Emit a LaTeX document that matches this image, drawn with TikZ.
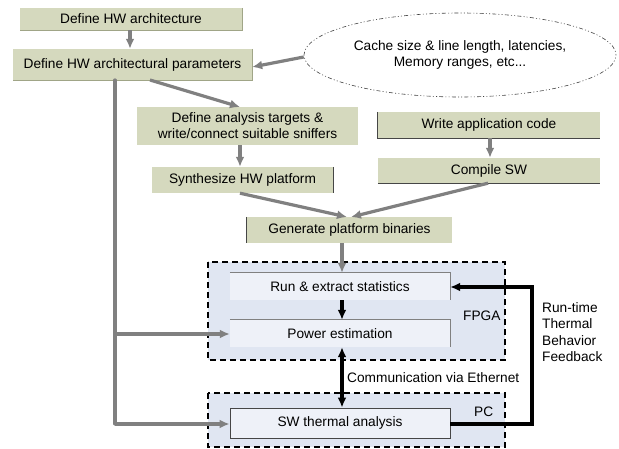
\documentclass[tikz,border=0pt]{standalone}
\usepackage{fontspec}
\setmainfont{Liberation Sans}
\usetikzlibrary{arrows.meta,shapes.geometric}
\definecolor{boxgreen}{RGB}{213,217,190}
\definecolor{edgegreen}{RGB}{160,165,135}
\definecolor{contblue}{RGB}{224,230,242}
\definecolor{innerblue}{RGB}{238,241,248}
\definecolor{arrgray}{RGB}{128,128,128}
\definecolor{edgedark}{RGB}{70,70,70}
\tikzset{
  x=1pt, y=-1pt,
  every node/.style={font=\fontsize{13.7}{16}\selectfont, inner sep=0pt},
  greenbox/.style={fill=boxgreen, align=center},
  innerbox/.style={fill=innerblue, align=center, minimum width=220pt},
  container/.style={draw=black, fill=contblue, line width=1.1pt, dash pattern=on 6pt off 4pt},
  grayarrow/.style={draw=arrgray, line width=3.2pt, -{Latex[length=10pt,width=9pt]}},
  grayline/.style={draw=arrgray, line width=3.2pt},
  blackarrow/.style={draw=black, line width=3.2pt, -{Latex[length=10pt,width=9pt]}},
  blackboth/.style={draw=black, line width=3.2pt, {Latex[length=10pt,width=9pt]}-{Latex[length=10pt,width=9pt]}},
  softedge/.style={draw=edgegreen, line width=0.8pt},
  darkedge/.style={draw=edgedark, line width=0.9pt},
  inneredge/.style={draw=gray, line width=0.9pt},
  lbl/.style={align=left, anchor=west},
}
\begin{document}
\begin{tikzpicture}
\useasboundingbox (0,0) rectangle (619,449);

% containers
\draw[container] (208,262) rectangle (505,360);
\draw[container] (208,393) rectangle (505,447);

% green boxes
\node[greenbox, minimum width=222pt, minimum height=22pt] (b1) at (131,19) {Define HW architecture};
\node[greenbox, minimum width=239pt, minimum height=31pt] (b2) at (132.5,64.5) {Define HW architectural parameters};
\node[draw=black!75, line width=0.6pt, dash pattern=on 1pt off 2.2pt on 1pt off 2.2pt on 4pt off 2.2pt, ellipse, minimum width=312pt, minimum height=84pt, align=center] (ell) at (460,55) {Cache size \& line length, latencies,\\Memory ranges, etc...};
\node[greenbox, minimum width=221pt, minimum height=38pt] (b4) at (247.5,126) {Define analysis targets \&\\write/connect suitable sniffers};
\node[greenbox, minimum width=222pt, minimum height=26pt] (b5) at (489,125) {Write application code};
\node[greenbox, minimum width=222pt, minimum height=25pt] (b6) at (489,170.5) {Compile SW};
\node[greenbox, minimum width=181pt, minimum height=26pt] (b7) at (242.5,180) {Synthesize HW platform};
\node[greenbox, minimum width=205pt, minimum height=26pt] (b8) at (349.5,230) {Generate platform binaries};

% inner boxes
\node[innerbox, minimum height=27pt] (run) at (340,286.5) {Run \& extract statistics};
\node[innerbox, minimum height=27pt] (pow) at (340,333.5) {Power estimation};
\node[innerbox, minimum height=30pt, draw=edgedark, line width=0.9pt] (sw) at (340,423) {SW thermal analysis};

% partial edges
\draw[softedge] (b1.north east) -- (b1.south east) -- (b1.south west);
\draw[softedge] (b2.north east) -- (b2.south east) -- (b2.south west);
\draw[darkedge] (b5.north west) -- (b5.south west) -- (b5.south east);
\draw[darkedge] (b6.south west) -- (b6.south east);
\draw[darkedge] (b7.north east) -- (b7.south east);
\draw[darkedge] (b8.north west) -- (b8.south west);
\draw[inneredge] (run.north west) -- (run.north east) -- (run.south east);
\draw[inneredge] (pow.north west) -- (pow.north east) -- (pow.south east);

% labels
\node[lbl] (fpga) at (463,316) {FPGA};
\node[lbl] (pc) at (474,412) {PC};
\node[lbl] (eth) at (347,378) {Communication via Ethernet};
\node[lbl, font=\fontsize{13.7}{16.5}\selectfont] (fb) at (542,332) {Run-time\\Thermal\\Behavior\\Feedback};

% coordinates
\coordinate (b2s) at (150,80);
\coordinate (trunk) at (115,80);
\coordinate (trunkmid) at (115,334);
\coordinate (trunkbot) at (115,424);
\coordinate (fbr) at (532,424);
\coordinate (fbt) at (532,287);

% gray arrows
\draw[grayarrow] (b1.south -| 130,0) -- (b2.north -| 130,0);
\draw[grayarrow] (ell.west |- 0,57) -- (b2.east |- 0,67);
\draw[grayarrow] (b2s) -- (240,107);
\draw[grayarrow] (b4.south -| 240,0) -- (b7.north -| 240,0);
\draw[grayarrow] (b5.south -| 490,0) -- (b6.north -| 490,0);
\draw[grayarrow] (b7.south -| 240,0) -- (347,217);
\draw[grayarrow] (b6.south -| 488,0) -- (351,217);
\draw[grayarrow] (b8.south -| 342,0) -- (run.north -| 342,0);
\draw[grayline, line cap=round] (trunk) -- (trunkbot);
\draw[grayarrow] (trunkmid) -- (pow.west |- trunkmid);
\draw[grayarrow, line join=round] (trunkbot) -- (sw.west |- trunkbot);

% black arrows
\draw[blackarrow] (run.south -| 342,0) -- (pow.north -| 342,0);
\draw[blackboth] (pow.south -| 342,0) -- (sw.north -| 342,0);
\draw[blackarrow] (sw.east |- fbr) -- (fbr) -- (fbt) -- (run.east |- fbt);
\end{tikzpicture}
\end{document}
